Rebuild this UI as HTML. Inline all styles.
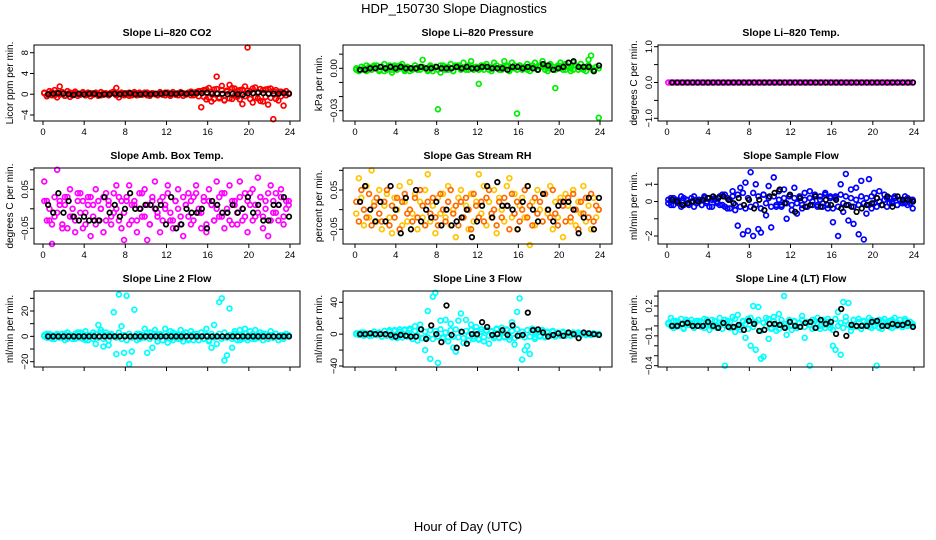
<!DOCTYPE html>
<html><head><meta charset="utf-8"><style>
html,body{margin:0;padding:0;background:#fff;}
svg{display:block;font-family:"Liberation Sans",Arial,sans-serif;}
</style></head><body>
<svg id="chart" width="936" height="540" viewBox="0 0 936 540" xmlns="http://www.w3.org/2000/svg">
<text x="454" y="13" font-size="13" text-anchor="middle">HDP_150730  Slope Diagnostics</text>
<text x="468" y="531" font-size="13" text-anchor="middle">Hour of Day (UTC)</text>
</svg>
<script>
const xTicks = [0,4,8,12,16,20,24];
const co2Main = [0.3,-0.4,0.6,-0.2,0.8,-0.6,1.5,0.4,-0.3,0.6,-0.5,0.2,0.5,-0.3,0.1,0.4,-0.2,0.3,-0.4,0.2,0.1,-0.3,0.4,-0.1,0.2,-0.2,0.3,0.5,1.2,-0.6,0.3,-0.2,0.2,-0.3,0.1,0.4,-0.2,0.3,-0.1,0.2,0.3,-0.3,0.2,0.1,-0.2,0.4,-0.1,0.3,0.2,-0.3,0.4,0.1,-0.2,0.3,0.2,-0.1,0.3,0.5,-0.2,0.4,0.6,-2.5,0.8,-1.0,1.2,-1.4,0.9,3.4,-0.8,1.6,-1.2,0.7,1.8,-0.9,1.1,-0.5,0.8,-1.9,1.5,9.0,0.6,-1.6,1.3,-0.8,1.0,-1.4,0.9,-2.0,1.1,-4.8,0.8,-1.2,0.5,-2.2,0.6,0.2];
const co2Band = [0.2,-0.3,0.1,0.4,-0.2,0.3,-0.1,0.2,-0.3,0.1,0.3,-0.2,0.2,0.1,-0.1,0.3,-0.2,0.1,0.2,-0.1,0.3,0,-0.2,0.2,0.1,-0.1,0.2,0.3,-0.2,0.1,0,0.2,-0.1,0.3,-0.2,0.1,0.2,-0.1,0,0.3,-0.2,0.1,0.2,0,-0.1,0.2,0.1,-0.2,0.3,0,0.1,-0.1,0.2,0.4,-0.3,0.1,0.2,-0.2,0.3,0.1,-0.4,0.6,-0.5,0.9,-0.7,0.4,-0.9,1.0,-0.6,0.8,-1.1,0.5,-0.8,1.2,-0.3,0.6,-1.0,0.9,-0.4,0.7,-0.9,1.1,-0.6,0.4,-1.3,0.8,-0.5,1.0,-0.7,0.6,-0.9,0.5,-0.4,0.3,-0.2,0.1];
const co2Black = [0,0.1,0.2,0.1,0,-0.1,0.1,0,0.1,0.1,-0.1,0,0,0.1,0,0.1,0.2,0,0,0.1,0,0.1,0.1,0.2,0.1,0.1,0.2,0.1,0.2,0.2,0.2,0.3,0.1,0.1,0.1,0,0.1,0,-0.1,0.2,0.2,0.3,0.2,0.1,0.1,0.1,0.2,0.1];
const presMain = [-1,-2,1,-1,2,0,-1,1,2,-2,1,3,-1,2,-3,1,0,2,3,-1,1,-2,0,2,-1,1,6,0,-1,2,-2,1,-29,-3,2,1,-1,3,-2,2,1,0,4,-1,2,5,-1,1,-11,2,-1,3,1,-2,4,2,0,-1,5,1,-2,4,2,-32,2,-1,1,3,-2,2,4,-1,1,5,2,-2,3,1,-14,2,4,-1,3,1,-2,4,2,-1,3,1,-2,6,9,-2,1,-35];
const presBand = [0,-1,1,0,-2,1,-1,2,0,-1,1,-2,0,1,-1,2,-1,0,1,-2,1,0,-1,2,0,-1,1,0,-2,1,0,1,-1,2,0,-1,1,0,-2,1,2,-1,0,1,-1,2,0,1,-1,0,2,1,-1,0,1,2,-1,1,0,2,-1,1,0,-1,2,1,0,-1,1,2,0,-1,2,1,-1,0,2,1,-1,1,0,2,-1,1,0,-1,2,1,0,-1,1,2,0,-1,1,0];
const presBlack = [-1,-1,0,0,1,0,1,0,1,0,0,0,1,0,0,1,0,0,0,1,0,1,0,0,1,1,0,0,0,-1,1,1,0,1,0,-1,3,2,-1,0,1,4,5,1,1,1,-2,2];
const tempMain = [0,0,0,0,0,0,0,0,0,0,0,0,0,0,0,0,0,0,0,0,0,0,0,0,0,0,0,0,0,0,0,0,0,0,0,0,0,0,0,0,0,0,0,0,0,0,0,0,0,0,0,0,0,0,0,0,0,0,0,0,0,0,0,0,0,0,0,0,0,0,0,0,0,0,0,0,0,0,0,0,0,0,0,0,0,0,0,0,0,0,0,0,0,0,0,0];
const tempBlack = [0,0,0,0,0,0,0,0,0,0,0,0,0,0,0,0,0,0,0,0,0,0,0,0,0,0,0,0,0,0,0,0,0,0,0,0,0,0,0,0,0,0,0,0,0,0,0,0];
const ambMain = [7,2,-3,-9,-2,10,1,-4,3,-5,5,-2,-6,2,4,-5,-1,3,-7,1,5,-3,0,-6,4,2,-4,-1,6,3,-5,-8,2,6,-3,1,-6,4,-2,5,-8,-4,2,7,-1,-6,3,0,6,-3,-5,2,5,-2,-7,1,4,-4,3,6,-1,-5,2,-6,5,1,-3,7,-2,4,-5,0,6,-4,2,-1,7,-3,4,-6,1,5,-2,8,3,-5,2,-7,6,-1,4,-3,5,-4,2,1];
const ambBand = [2,-3,0,-4,3,-1,2,-5,1,3,-2,0,-3,4,-1,2,-4,1,3,-2,-4,2,0,3,-3,1,-2,4,0,-3,2,-1,3,-4,1,2,-3,0,4,-2,1,-4,3,0,-2,2,-3,1,4,-1,-3,2,0,-4,3,1,-2,2,-3,4,0,-1,3,-4,2,1,-3,0,3,-2,4,-1,-3,2,1,-4,3,0,-2,2,4,-3,1,-1,3,-2,0,4,-3,2,-1,1,3,-2,0,2];
const ambBlack = [1,-1,4,-1,2,-2,-3,-2,-3,-3,-3,3,-1,1,-2,0,4,0,0,1,1,0,1,-4,3,-5,-4,0,-1,-1,0,-5,2,1,-1,-1,1,-1,0,3,-1,1,-3,-3,1,1,3,-2];
const rhYellow = [-1,8,3,-4,6,-2,10,2,-3,5,-5,1,4,-2,-6,3,0,6,-4,2,-3,7,-1,4,-5,2,-2,5,9,-3,1,-6,3,-1,4,-2,6,-4,0,-7,3,5,-2,1,-5,4,-3,2,9,-1,6,-4,2,-2,5,-6,3,0,-3,6,8,-2,4,-5,1,3,-2,6,-9,2,-4,5,0,-3,4,-1,6,-5,2,-2,3,-7,4,1,-3,5,-4,2,-1,6,-3,1,-5,3,-2,0];
const rhRed = [2,-3,5,0,-2,4,-4,1,3,-1,-3,2,5,-4,1,-2,3,-5,2,4,-1,0,-3,3,-2,5,1,-4,2,-1,3,-2,-4,4,0,-3,2,5,-1,1,-4,2,-2,3,0,-5,4,1,-2,2,-3,3,5,-1,0,-4,2,-2,3,1,-5,4,-1,2,-3,0,5,-2,1,-4,3,-1,2,-3,4,0,-2,5,-1,-4,2,1,-3,3,-2,4,0,-5,2,-1,3,-2,4,-3,1,0];
const rhBlack = [2,6,0,-3,2,-3,6,0,-6,3,-5,5,-3,0,-2,2,-4,0,-4,-3,-2,0,-7,-3,1,6,-2,7,1,1,0,-5,2,6,0,-3,4,0,-3,1,2,2,0,-6,-2,3,-5,3];
const flowMain = [-1,2,-2,1,0,-3,2,1,-2,0,3,-1,1,-2,2,0,-3,1,2,-1,3,-2,4,-4,1,6,-5,-14,8,-19,11,-17,17,-20,10,-16,-18,4,-8,9,-15,14,-3,6,-2,7,-10,3,-5,8,-7,2,-4,5,-3,6,-2,4,-3,3,-1,5,-4,2,-12,3,-20,10,-6,16,-11,7,-13,8,-19,12,-22,-7,13,-4,5,-3,6,-2,4,-3,2,-1,3,-2,1,-1,3,-2,1,-4];
const flowBand = [1,-2,2,0,-1,3,-2,1,-1,2,-3,1,0,-2,3,-1,2,-3,1,0,-2,4,-3,2,-4,3,-2,4,-3,5,-4,2,-3,5,-2,3,-4,4,-1,2,-3,3,-2,1,-3,2,-1,3,-2,2,-1,3,-2,1,-3,2,0,3,-2,1,-3,4,-2,3,-4,2,-3,4,-1,3,-2,2,-3,1,-2,3,-1,2,-2,3,-1,2,0,-2,1,2,-1,0,2,-2,1,0,-1,2,-1,1];
const flowBlack = [1,0,-2,-1,0,0,1,2,3,2,3,1,-1,2,-2,1,-4,1,-5,3,5,7,-1,4,-6,2,-3,-2,3,-3,1,-2,1,-4,-2,-3,-6,-4,-2,-1,2,-2,3,-3,3,1,1,0];
const l2Main = [1,-1,2,-2,0,1,-1,2,-3,3,1,-2,2,-1,3,-2,4,-3,1,3,-6,9,5,-8,3,-7,1,19,-14,33,8,-13,32,-22,-12,21,-3,2,-1,6,-13,3,-9,5,-4,2,-3,6,-5,4,-3,2,-2,5,-4,3,-2,4,-3,2,-3,3,-2,6,-4,-9,9,-6,27,30,-19,-15,22,-9,4,-3,5,-2,6,-3,4,-2,5,-1,3,-3,2,-2,4,-1,2,-3,1,-2,2,0];
const l2Band = [0,2,-1,1,-2,2,0,-1,2,-2,1,0,-2,3,-1,2,-3,1,0,-2,2,-1,3,-2,1,-3,2,0,-1,3,-2,1,-3,2,-1,0,2,-2,1,-1,3,-2,0,2,-1,1,-3,2,0,-2,3,-1,1,-2,2,0,-3,1,2,-1,0,3,-2,1,-3,2,-1,0,2,-2,3,-1,1,-2,2,0,-3,1,2,-1,0,2,-2,1,-1,2,0,-2,1,-1,2,0,-1,1,0,1];
const l2Black = [0,0,0,0,0,0,0,0,0,0,0,0,0,0,0,0,0,0,0,0,0,0,0,0,0,0,0,0,0,0,0,0,0,0,0,0,0,0,0,0,0,0,0,0,0,0,0,0];
const l3Main = [0,1,-1,2,0,-2,1,3,-1,2,-3,4,-2,3,-4,5,-3,6,-4,5,-2,7,-6,10,-8,12,-5,-20,29,-31,47,52,-36,17,-4,18,-9,13,-17,-22,17,26,-11,18,-8,12,-6,9,-7,6,-9,4,-12,3,-5,7,-4,8,-3,6,-7,15,-13,28,45,-32,-20,-15,-25,7,-6,4,-3,5,-4,3,-2,4,-3,2,-2,3,-1,2,-2,1,-1,2,-1,1,0,1,-1,1,0,0];
const l3Band = [1,-1,2,-2,1,0,-2,3,-1,2,-3,4,-2,5,-3,4,-5,3,-4,6,-3,5,-6,4,-2,6,-5,3,-4,5,-6,4,-3,6,-5,2,-4,5,-3,6,-4,3,-5,4,-2,5,-3,4,-6,3,-4,5,-2,4,-3,6,-5,3,-4,5,-3,4,-5,6,-2,3,-4,5,-3,2,-4,3,-2,4,-3,2,-1,3,-2,2,-1,2,-2,1,-1,2,-1,1,0,1,-1,1,0,1,0,0];
const l3Black = [0,0,1,0,0,0,-1,-3,-1,-2,-3,-3,6,-6,11,0,-10,36,-1,-17,3,-12,0,0,15,9,-1,0,5,-1,11,-2,-1,27,5,6,2,-3,-1,1,-2,2,0,-5,2,1,0,-1];
const l4Main = [2,8,-2,5,0,7,-3,4,1,6,-2,3,5,-1,7,2,-4,6,1,-2,8,3,-40,5,-2,9,-6,11,-1,4,-12,7,-20,20,-24,19,-33,-31,8,-13,-3,9,-5,12,2,30,-9,6,-4,4,-2,-1,10,-12,3,-40,6,-2,8,-3,5,1,7,-2,-20,-24,14,-29,24,9,23,-5,6,-1,7,-3,4,0,8,-2,5,-40,6,-3,7,1,5,-2,8,0,6,-1,7,2,4,0];
const l4Band = [3,0,5,-1,4,2,-2,6,1,3,-1,5,0,4,-2,6,2,-1,5,0,3,-3,6,1,4,-2,7,0,-4,5,2,-3,8,-1,4,6,-5,3,0,7,-2,5,1,-3,6,2,-1,4,0,5,-2,3,6,-1,4,1,-3,5,2,0,6,-2,4,1,-4,7,0,3,-2,5,1,-1,6,0,4,-3,5,2,-1,6,0,3,-2,5,1,4,-1,6,0,3,2,-1,5,0,4,2];
const l4Black = [0,0,2,3,0,0,0,4,0,-2,3,-1,-1,1,-4,5,2,-5,-4,2,2,1,-2,4,0,-1,3,4,-2,6,2,4,-8,17,-10,1,0,0,0,4,5,0,0,2,1,1,3,-1];

const cols = [{x0:34,x1:300,h0:43,h24:290},{x0:343,x1:612,h0:355,h24:600},{x0:658,x1:924,h0:667,h24:914}];
const rows = [{y0:45,y1:121},{y0:168,y1:244},{y0:291,y1:367}];
const panels = [
 {name:'co2',title:'Slope Li\u2013820 CO2',ylab:'Licor ppm per min.',r:0,c:0,scale:1,ref:[8,52.7,-4,115],ticks:[-4,0,4,8],labels:['\u22124','0','4','8'],series:[[co2Band,'#ff0000'],[co2Main,'#ff0000']],black:co2Black,xl:true},
 {name:'pressure',title:'Slope Li\u2013820 Pressure',ylab:'kPa per min.',r:0,c:1,scale:0.001,ref:[0,68.3,-0.03,110.7],ticks:[-0.03,-0.02,-0.01,0,0.01],labels:['\u22120.03','','','0.00',''],series:[[presBand,'#00ee00'],[presMain,'#00ee00']],black:presBlack,xl:true},
 {name:'temp',title:'Slope Li\u2013820 Temp.',ylab:'degrees C per min.',r:0,c:2,scale:1,ref:[1,46.7,-1,118.3],ticks:[-1,-0.5,0,0.5,1],labels:['\u22121.0','','0.0','','1.0'],series:[[tempMain,'#ff00ff']],black:tempBlack,xl:true},
 {name:'amb-temp',title:'Slope Amb. Box Temp.',ylab:'degrees C per min.',r:1,c:0,scale:0.01,ref:[0.05,189.3,-0.05,228.3],ticks:[-0.05,0,0.05,0.1],labels:['\u22120.05','','0.05',''],series:[[ambBand,'#ff00ff'],[ambMain,'#ff00ff']],black:ambBlack,xl:true},
 {name:'rh',title:'Slope Gas Stream RH',ylab:'percent per min.',r:1,c:1,scale:0.01,ref:[0.05,190,-0.05,229.3],ticks:[-0.05,0,0.05,0.1],labels:['\u22120.05','','0.05',''],series:[[rhYellow,'#ffc400'],[rhRed,'#ff6a00']],black:rhBlack,xl:true},
 {name:'sample-flow',title:'Slope Sample Flow',ylab:'ml/min per min.',r:1,c:2,scale:0.1,ref:[1,184.3,-2,236],ticks:[-2,-1,0,1],labels:['\u22122','','0','1'],series:[[flowBand,'#0000ff'],[flowMain,'#0000ff']],black:flowBlack,xl:true},
 {name:'line2-flow',title:'Slope Line 2 Flow',ylab:'ml/min per min.',r:2,c:0,scale:1,ref:[20,311,-20,361.7],ticks:[-20,-10,0,10,20,30],labels:['\u221220','','0','','20',''],series:[[l2Band,'#00ffff'],[l2Main,'#00ffff']],black:l2Black,xl:false},
 {name:'line3-flow',title:'Slope Line 3 Flow',ylab:'ml/min per min.',r:2,c:1,scale:1,ref:[40,302.3,-40,366],ticks:[-40,-20,0,20,40],labels:['\u221240','','0','','40'],series:[[l3Band,'#00ffff'],[l3Main,'#00ffff']],black:l3Black,xl:false},
 {name:'line4-flow',title:'Slope Line 4 (LT) Flow',ylab:'ml/min per min.',r:2,c:2,scale:0.01,ref:[0.2,306,-0.4,365.7],ticks:[-0.4,-0.3,-0.2,-0.1,0,0.1,0.2,0.3],labels:['\u22120.4','','','\u22120.1','','','0.2',''],series:[[l4Band,'#00ffff'],[l4Main,'#00ffff']],black:l4Black,xl:false}
];
const NS='http://www.w3.org/2000/svg';
const svg=document.getElementById('chart');
function mk(tag,attrs,parent){const e=document.createElementNS(NS,tag);for(const k in attrs)e.setAttribute(k,attrs[k]);(parent||svg).appendChild(e);return e;}
panels.forEach(p=>{
  const C=cols[p.c],R=rows[p.r];
  const g=mk('g',{});
  
  
  const xs=h=>C.h0+(C.h24-C.h0)*h/24;
  const ys=v=>p.ref[1]+(v-p.ref[0])*(p.ref[3]-p.ref[1])/(p.ref[2]-p.ref[0]);
  const cx=(C.x0+C.x1)/2;
  const t=mk('text',{x:cx,y:R.y0-9,'font-size':'10.5','font-weight':'bold','text-anchor':'middle'},g);t.textContent=p.title;
  
  
  p.series.forEach(s=>{const arr=s[0],n=arr.length;arr.forEach((v,i)=>{
    const c=mk('circle',{cx:xs((i+0.5)*24/n),cy:ys(v*p.scale),r:2.4,fill:'none',stroke:s[1],'stroke-width':1.7},g);
    
    
  });});
  const nb=p.black.length;
  p.black.forEach((v,i)=>{
    const c=mk('circle',{cx:xs((i+1)*24/(nb+0.2)),cy:ys(v*p.scale),r:2.3,fill:'none',stroke:'#000','stroke-width':1.7},g);
    
    
  });
  const b=mk('rect',{x:C.x0,y:R.y0,width:C.x1-C.x0,height:R.y1-R.y0,fill:'none',stroke:'#000','stroke-width':1},g);
  
  
  xTicks.forEach(h=>{
    mk('line',{x1:xs(h),x2:xs(h),y1:R.y1,y2:R.y1+4,stroke:'#000'},g);
    if(p.xl){const l=mk('text',{x:xs(h),y:R.y1+14,'font-size':'9.5','text-anchor':'middle'},g);l.textContent=h;
      
      }
  });
  const ax=C.x0;
  p.ticks.forEach((v,i)=>{
    const y=ys(v);mk('line',{x1:ax-4,x2:ax,y1:y,y2:y,stroke:'#000'},g);
    if(p.labels[i]){const l=mk('text',{x:0,y:0,'font-size':'9.5','text-anchor':'middle',transform:`translate(${ax-6},${y}) rotate(-90)`},g);l.textContent=p.labels[i];
      
      }
  });
  const yl=mk('text',{x:0,y:0,'font-size':'10','text-anchor':'middle',transform:`translate(${C.x0-21},${(R.y0+R.y1)/2}) rotate(-90)`},g);yl.textContent=p.ylab;
  
  
});
</script>
</body></html>
